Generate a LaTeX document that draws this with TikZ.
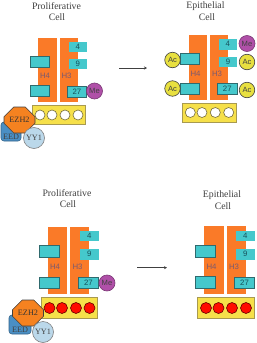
\documentclass[tikz,border=0pt]{standalone}
\usepackage{fontspec}
\setmainfont{Liberation Serif}
\newfontfamily\labelsans{Liberation Sans}
\usetikzlibrary{shapes.geometric,shapes.misc,arrows.meta}
\definecolor{barorange}{HTML}{FA7A28}
\definecolor{tailcyan}{HTML}{45C8CC}
\definecolor{tailedge}{HTML}{2F6A6E}
\definecolor{nucyellow}{HTML}{F6E04A}
\definecolor{nucedge}{HTML}{A89A50}
\definecolor{acyellow}{HTML}{E8E040}
\definecolor{mepurple}{HTML}{B050A8}
\definecolor{ezorange}{HTML}{F58220}
\definecolor{eedblue}{HTML}{4A8FC4}
\definecolor{yyblue}{HTML}{BBD8EA}
\definecolor{inkgray}{HTML}{404040}
\definecolor{histext}{HTML}{7A5A70}
\definecolor{numtext}{HTML}{17505A}
\tikzset{
  box/.style={inner sep=0pt,outer sep=0pt,line width=0.6pt},
  bar/.style={box,fill=barorange},
  tail/.style={box,fill=tailcyan,font=\labelsans\fontsize{7.8}{7.8}\selectfont,text=numtext},
  framed/.style={tail,draw=tailedge},
  nucleo/.style={box,fill=nucyellow,draw=nucedge},
  bead/.style={circle,box,draw=nucedge!70!black,fill=white,minimum size=10pt},
  redbead/.style={bead,fill=red!90!orange,draw=red!40!black,minimum size=11pt},
  ac/.style={circle,box,draw=inkgray,fill=acyellow,minimum size=15.5pt,font=\labelsans\fontsize{7.6}{7.6}\selectfont,text=black!75},
  me/.style={circle,box,draw=mepurple!70!black,fill=mepurple,minimum size=16pt,font=\labelsans\fontsize{7.6}{7.6}\selectfont,text=black!75},
  ezh/.style={chamfered rectangle,chamfered rectangle xsep=8pt,chamfered rectangle ysep=7pt,box,draw=inkgray,fill=ezorange,minimum width=31pt,minimum height=26pt,font=\fontsize{8.2}{8.2}\selectfont,text=black!80},
  eed/.style={box,rounded corners=3pt,draw=eedblue!70!black,fill=eedblue},
  eedtext/.style={inner sep=0pt,font=\fontsize{8.2}{8.2}\selectfont,text=black!75},
  yy/.style={circle,box,draw=gray,fill=yyblue,minimum size=21pt,font=\fontsize{8.2}{8.2}\selectfont,text=black!75},
  title/.style={font=\fontsize{9.8}{9.8}\selectfont,text=inkgray,inner sep=0pt},
  hislabel/.style={font=\labelsans\fontsize{7.8}{7.8}\selectfont,text=histext,inner sep=0pt},
  step arrow/.style={draw=inkgray,line width=0.7pt,-{Stealth[length=3pt,width=3pt]}}
}
% rectangular node given by its corners: style, name, x1, y1, x2, y2, text
\newcommand{\cornerbox}[7]{%
  \node[#1,minimum width={(#5-#3)*1pt},minimum height={(#6-#4)*1pt}] (#2) at ({(#3+#5)/2},{(#4+#6)/2}) {#7};}
\begin{document}
\begin{tikzpicture}[x=1pt,y=-1pt]
\useasboundingbox[fill=white] (0,0) rectangle (257,343);

% upper left: proliferative cell, unmethylated DNA
\node[title] (t1a) at (56.5,6) {Proliferative};
\node[title] (t1b) at (57,17) {Cell};
\cornerbox{bar}{h4a}{38}{38}{57}{102}{}
\cornerbox{bar}{h3a}{59.5}{38}{78}{102}{}
\node[hislabel] (h4la) at (45,76) {H4};
\node[hislabel] (h3la) at (66.5,76) {H3};
\cornerbox{tail}{a4}{68.5}{41.5}{87}{51.5}{4}
\cornerbox{tail}{a9}{68.5}{59}{87}{69}{9}
\cornerbox{framed}{a27}{67.5}{86}{86.5}{97}{27}
\cornerbox{framed}{al1}{30.5}{56}{49.5}{67.5}{}
\cornerbox{framed}{al2}{30.5}{85.5}{49.5}{96.5}{}
\node[me] (ame) at (94.5,91) {Me};
\cornerbox{nucleo}{ay}{32}{105}{85}{124}{}
\foreach \x/\n in {40/1,52/2,65/3,78/4} \node[bead] (ab\n) at (\x,115) {};
\cornerbox{eed}{aeed}{1}{122}{21}{141}{}
\node[ezh] (aez) at (19.5,120) {EZH2};
\node[eedtext] (aeedt) at (11,137) {EED};
\node[yy] (ayy) at (34,138) {YY1};

% upper right: epithelial cell, acetylated tails
\node[title] (t2a) at (205.5,6) {Epithelial};
\node[title] (t2b) at (207,17) {Cell};
\cornerbox{bar}{h4b}{188.7}{35}{207}{100}{}
\cornerbox{bar}{h3b}{210}{35}{228}{100}{}
\node[hislabel] (h4lb) at (195.5,74) {H4};
\node[hislabel] (h3lb) at (217,73.5) {H3};
\cornerbox{tail}{b4}{218.5}{39}{237}{49.5}{4}
\cornerbox{tail}{b9}{219}{57}{237}{67}{9}
\cornerbox{framed}{b27}{217.5}{83.5}{237}{94}{27}
\cornerbox{framed}{bl1}{180}{53.5}{199.5}{64.5}{}
\cornerbox{framed}{bl2}{180}{83.5}{199.5}{94}{}
\node[ac] (bac1) at (172.5,60) {Ac};
\node[ac] (bac2) at (172.5,88.5) {Ac};
\node[me] (bme) at (247,43.5) {Me};
\node[ac] (bac3) at (247,62) {Ac};
\node[ac] (bac4) at (247,90) {Ac};
\cornerbox{nucleo}{by}{182.5}{103}{236}{122}{}
\foreach \x/\n in {190.3/1,202/2,215.3/3,228.7/4} \node[bead] (bb\n) at (\x,112.5) {};

% lower left: proliferative cell, methylated DNA
\node[title] (t3a) at (67,193) {Proliferative};
\node[title] (t3b) at (68,204.5) {Cell};
\cornerbox{bar}{h4c}{48}{226.5}{67}{294}{}
\cornerbox{bar}{h3c}{70}{226.5}{89}{294}{}
\node[hislabel] (h4lc) at (55,267) {H4};
\node[hislabel] (h3lc) at (77.5,266.5) {H3};
\cornerbox{tail}{c4}{79.5}{231}{99}{241}{4}
\cornerbox{tail}{c9}{79.5}{249}{99}{259.5}{9}
\cornerbox{framed}{c27}{78.5}{277}{98.5}{288}{27}
\cornerbox{framed}{cl1}{39.5}{245.5}{59.5}{257}{}
\cornerbox{framed}{cl2}{39.5}{277}{59.5}{288}{}
\node[me] (cme) at (107,283) {Me};
\cornerbox{nucleo}{cy}{41.5}{297}{97}{318}{}
\foreach \x/\n in {49.5/1,62/2,76/3,89.5/4} \node[redbead] (cb\n) at (\x,308) {};
\cornerbox{eed}{ceed}{9}{315}{31}{334}{}
\node[ezh] (cez) at (28,313) {EZH2};
\node[eedtext] (ceedt) at (20,330) {EED};
\node[yy] (cyy) at (43,332) {YY1};

% lower right: epithelial cell, methylated DNA
\node[title] (t4a) at (222,195) {Epithelial};
\node[title] (t4b) at (223,206.5) {Cell};
\cornerbox{bar}{h4d}{204.3}{226}{224}{294}{}
\cornerbox{bar}{h3d}{226.5}{226}{246}{294}{}
\node[hislabel] (h4ld) at (211.5,267) {H4};
\node[hislabel] (h3ld) at (234,266.5) {H3};
\cornerbox{tail}{d4}{235.5}{231}{255}{241}{4}
\cornerbox{tail}{d9}{235.5}{249}{255}{259.5}{9}
\cornerbox{framed}{d27}{234.5}{277}{254.5}{288}{27}
\cornerbox{framed}{dl1}{195.5}{245}{215.5}{257}{}
\cornerbox{framed}{dl2}{195.5}{276}{215.5}{288}{}
\cornerbox{nucleo}{dy}{197.5}{297}{254}{318}{}
\foreach \x/\n in {206/1,218.5/2,232/3,246/4} \node[redbead] (db\n) at (\x,308) {};

% transition arrows
\coordinate (ar1s) at (119,68);
\coordinate (ar1e) at (147,68);
\coordinate (ar2s) at (137,267.7);
\coordinate (ar2e) at (167,267.7);
\draw[step arrow] (ar1s) -- (ar1e);
\draw[step arrow] (ar2s) -- (ar2e);
\end{tikzpicture}
\end{document}
